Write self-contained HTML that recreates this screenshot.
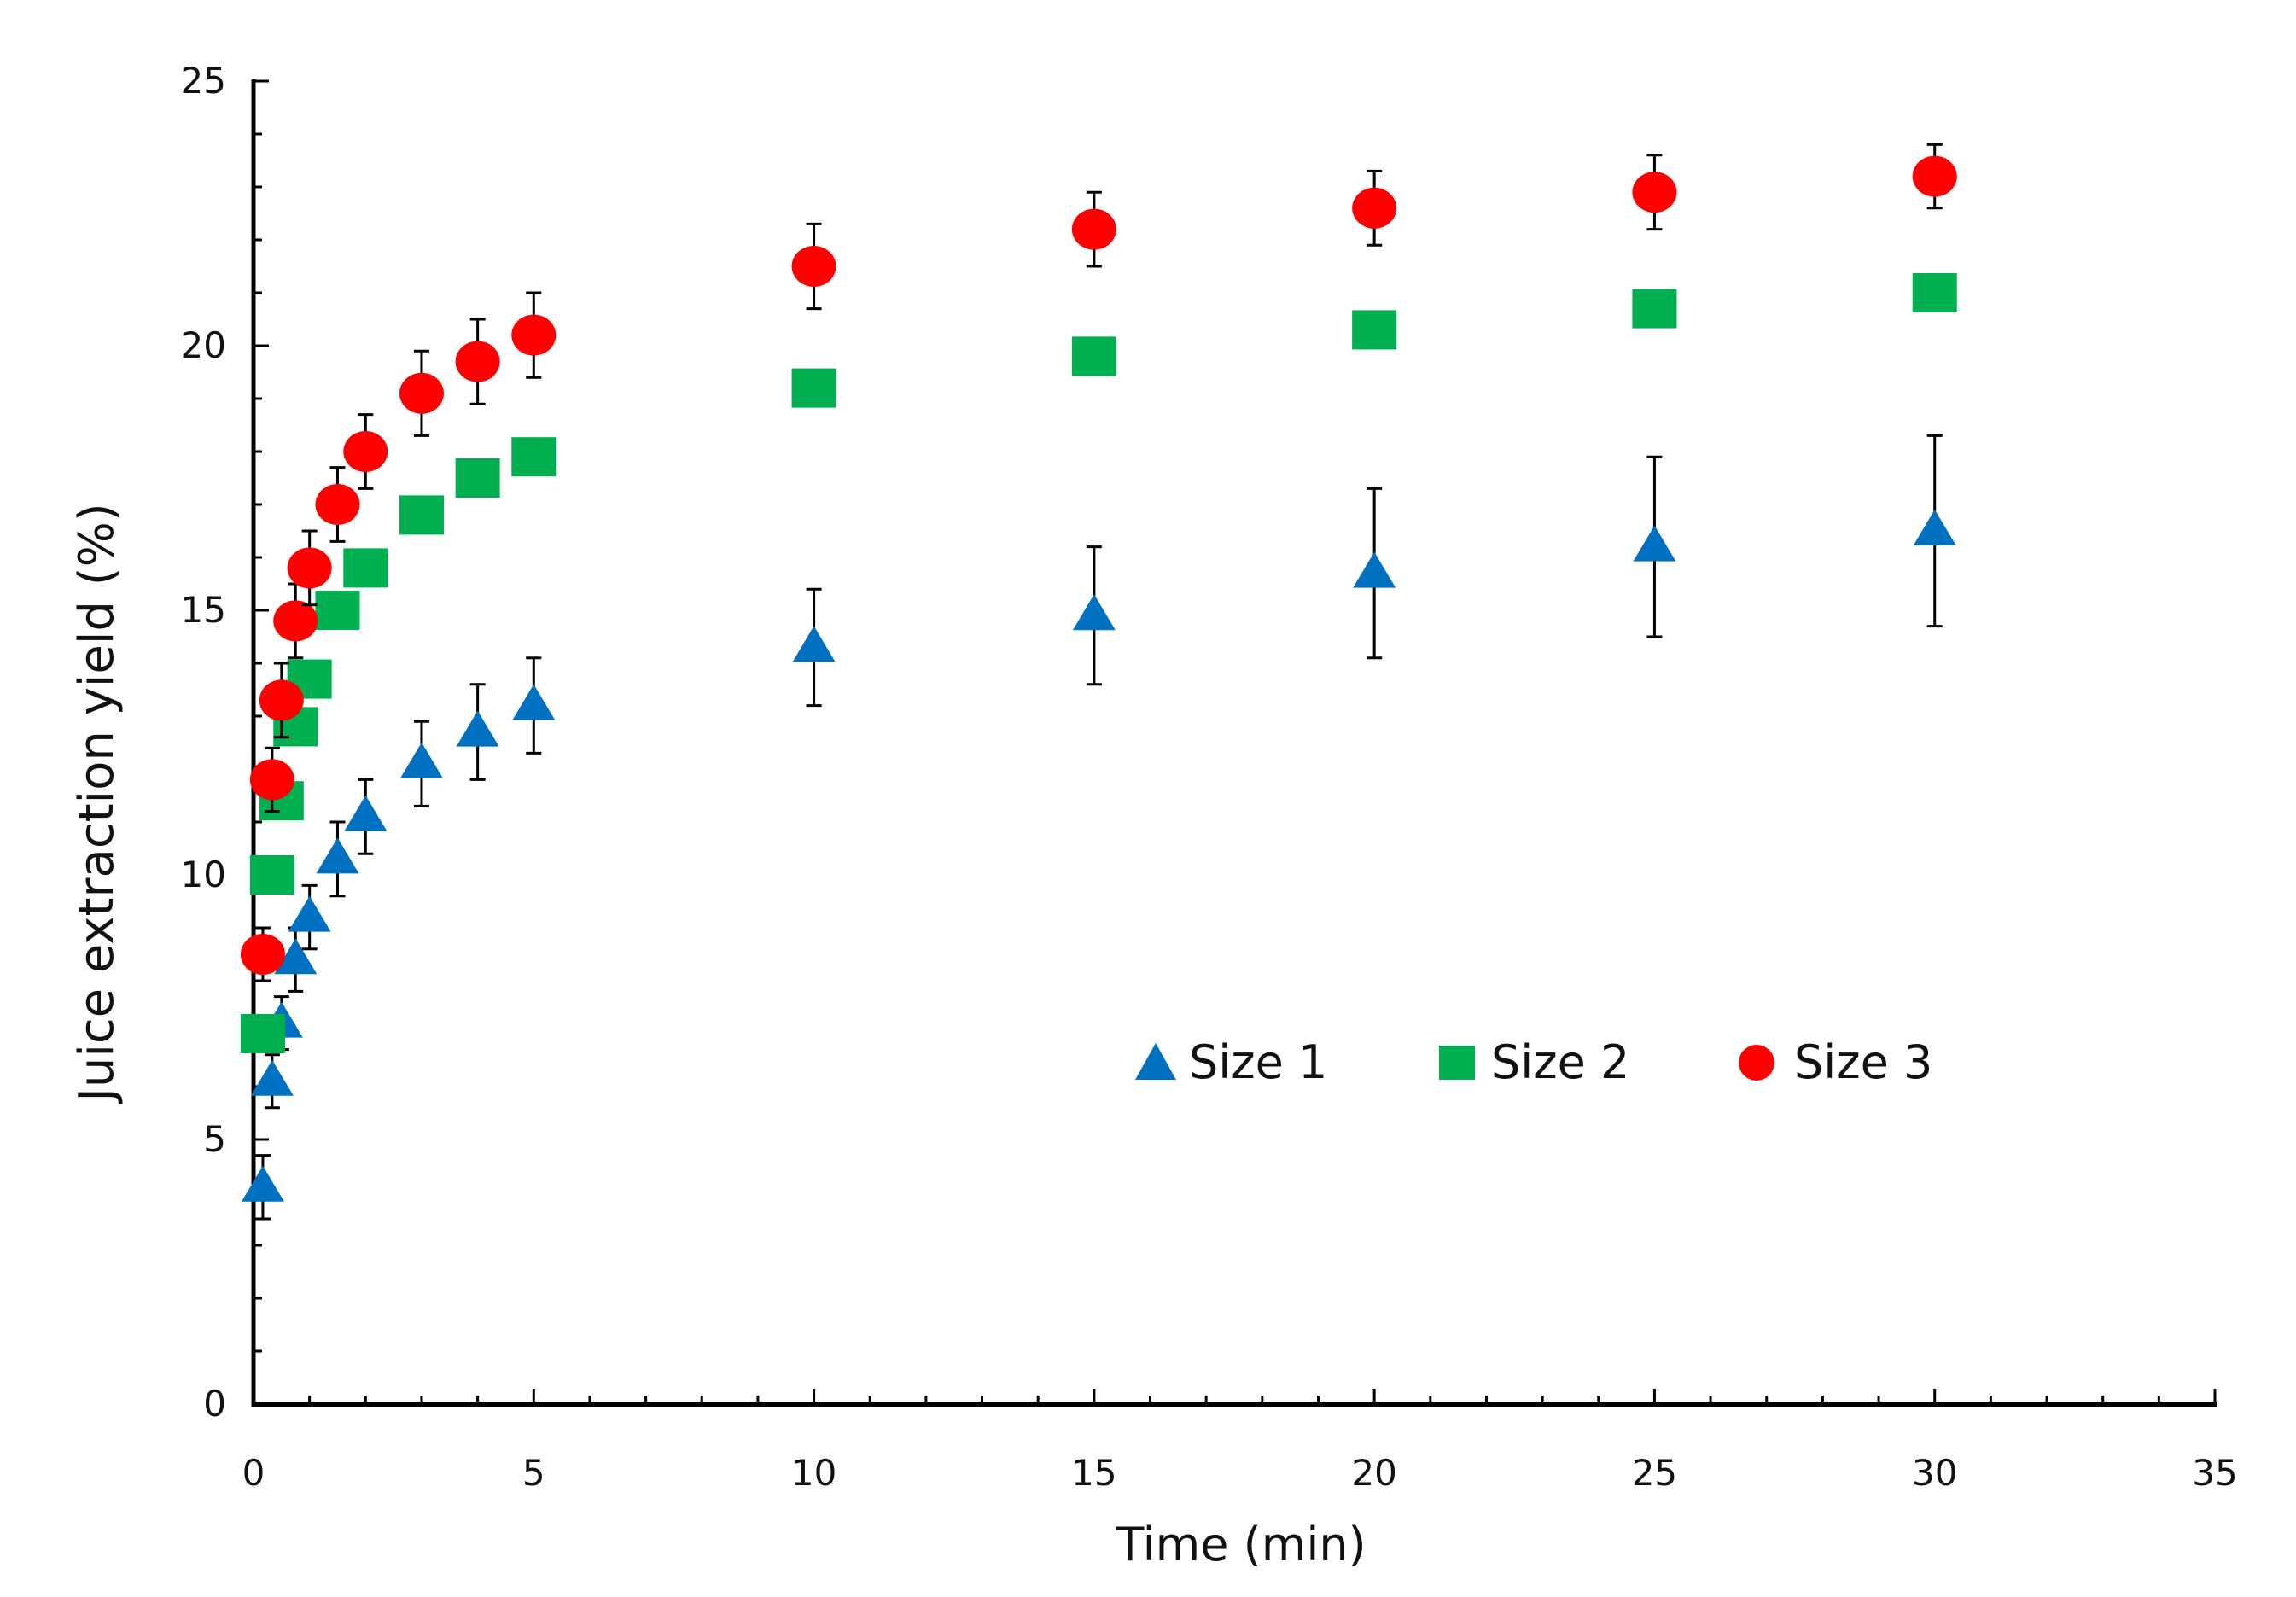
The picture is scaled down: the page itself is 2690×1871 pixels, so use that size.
<!DOCTYPE html>
<html><head><meta charset="utf-8"><style>
html,body{margin:0;padding:0;background:#fff;}
svg{display:block;}
text{font-family:"DejaVu Sans","Liberation Sans",sans-serif;fill:#111;}
</style></head><body>
<svg id="chart" width="2690" height="1871" viewBox="0 0 2690 1871" xmlns="http://www.w3.org/2000/svg">
<g id="axes"></g>
<g id="marks"></g>
<text transform="translate(132,940) rotate(-90)" text-anchor="middle" font-size="56">Juice extraction yield (%)</text>
<text x="1454" y="1828" text-anchor="middle" font-size="54">Time (min)</text>
<g>
<polygon points="1354,1222 1378,1265 1330,1265" fill="#0070C0"/>
<text x="1393" y="1263" font-size="54">Size 1</text>
<rect x="1686" y="1225" width="42" height="40" fill="#00B050"/>
<text x="1747" y="1263" font-size="54">Size 2</text>
<circle cx="2058" cy="1245" r="21" fill="#FF0000"/>
<text x="2102" y="1263" font-size="54">Size 3</text>
</g>
</svg>
<script>
const times=[1/6,1/3,0.5,0.75,1,1.5,2,3,4,5,10,15,20,25,30];
const size1=[4.1,6.1,7.2,8.4,9.2,10.3,11.1,12.1,12.7,13.2,14.3,14.9,15.7,16.2,16.5];
const size1Err=[0.6,0.5,0.5,0.6,0.6,0.7,0.7,0.8,0.9,0.9,1.1,1.3,1.6,1.7,1.8];
const size2=[7.0,10.0,11.4,12.8,13.7,15.0,15.8,16.8,17.5,17.9,19.2,19.8,20.3,20.7,21.0];
const size3=[8.5,11.8,13.3,14.8,15.8,17.0,18.0,19.1,19.7,20.2,21.5,22.2,22.6,22.9,23.2];
const size3Err=[0.5,0.6,0.7,0.7,0.7,0.7,0.7,0.8,0.8,0.8,0.8,0.7,0.7,0.7,0.6];
const xTicks=[0,5,10,15,20,25,30,35];
const yTicks=[0,5,10,15,20,25];

const X0=297,X1=2595,Y0=1645,Y1=95;
const xs=v=>X0+(v/35)*(X1-X0);
const ys=v=>Y0-(v/25)*(Y0-Y1);
const NS="http://www.w3.org/2000/svg";
function mk(tag,attrs,parent){const e=document.createElementNS(NS,tag);for(const k in attrs)e.setAttribute(k,attrs[k]);parent.appendChild(e);return e;}
const axes=document.getElementById('axes'),marks=document.getElementById('marks');
let e;
e=mk('line',{x1:X0,y1:Y1-2,x2:X0,y2:Y0+3,stroke:'#000','stroke-width':5},axes);


e=mk('line',{x1:X0-2,y1:Y0,x2:X1+2,y2:Y0,stroke:'#000','stroke-width':6},axes);


for(let i=0;i<=35;i++){const maj=i%5===0;
 e=mk('line',{x1:xs(i),y1:Y0,x2:xs(i),y2:Y0-(maj?18:10),stroke:'#000','stroke-width':3},axes);
 
 }
for(let i=0;i<=25;i++){const maj=i%5===0;
 e=mk('line',{x1:X0,y1:ys(i),x2:X0+(maj?18:10),y2:ys(i),stroke:'#000','stroke-width':3},axes);
 
 }
xTicks.forEach(t=>{e=mk('text',{x:xs(t),y:1740,'text-anchor':'middle','font-size':42},axes);e.textContent=t;
 
 });
yTicks.forEach(t=>{e=mk('text',{x:265,y:ys(t)+14,'text-anchor':'end','font-size':42},axes);e.textContent=t;
 
 });
function errbar(x,v,err,name){
 const g=mk('g',{stroke:'#000','stroke-width':3},marks);
 
 
 mk('line',{x1:x,y1:ys(v+err),x2:x,y2:ys(v-err)},g);
 mk('line',{x1:x-9,y1:ys(v+err),x2:x+9,y2:ys(v+err)},g);
 mk('line',{x1:x-9,y1:ys(v-err),x2:x+9,y2:ys(v-err)},g);}
times.forEach((t,i)=>{const x=xs(t);
 errbar(x,size1[i],size1Err[i],'size-1-error-bar');
 const y=ys(size1[i]);
 e=mk('polygon',{points:`${x},${y-25} ${x+25},${y+17} ${x-25},${y+17}`,fill:'#0070C0'},marks);
 
 });
times.forEach((t,i)=>{const x=xs(t),y=ys(size2[i]);
 e=mk('rect',{x:x-26,y:y-23,width:52,height:46,fill:'#00B050'},marks);
 
 });
times.forEach((t,i)=>{const x=xs(t);
 errbar(x,size3[i],size3Err[i],'size-3-error-bar');
 e=mk('ellipse',{cx:x,cy:ys(size3[i]),rx:26,ry:24,fill:'#FF0000'},marks);
 
 });
</script>
</body></html>
